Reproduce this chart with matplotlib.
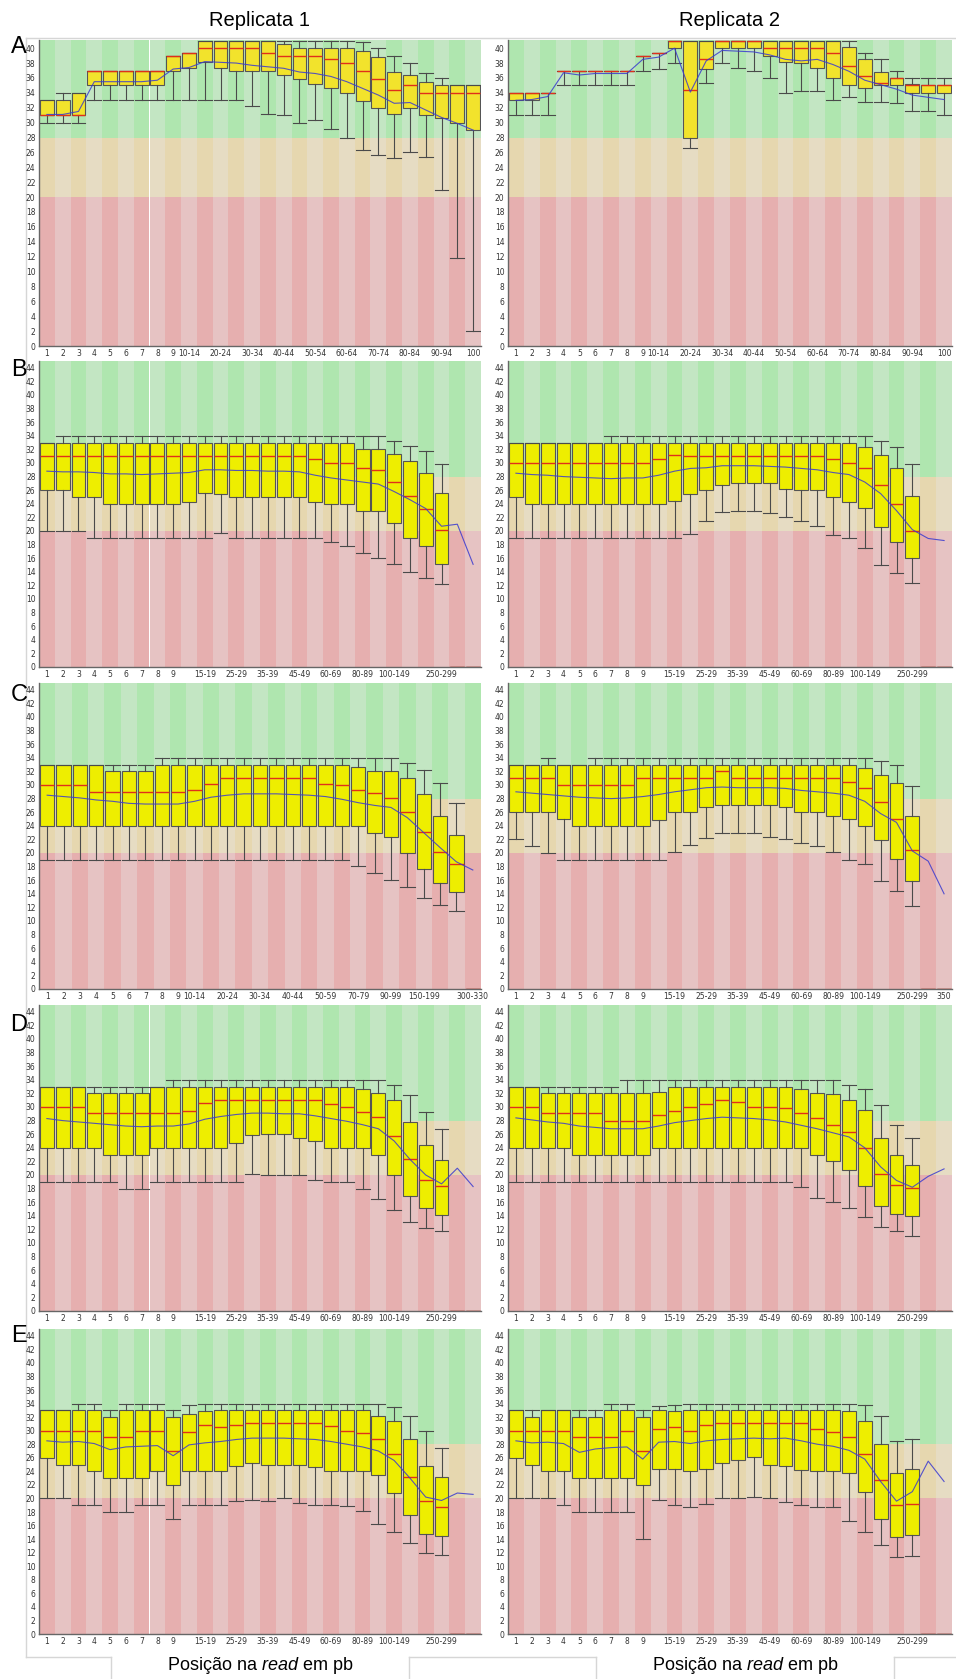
#!/usr/bin/env python3
"""Per-base sequence quality (FastQC style) for five libraries, two replicates each."""
import matplotlib
matplotlib.use("Agg")
import matplotlib.pyplot as plt
from matplotlib.patches import Rectangle

OUT = "out.png"
W, H = 956, 1679

# --- position bins -----------------------------------------------------------
SINGLE = [str(i) for i in range(1, 10)]
CATS_100 = SINGLE + ["%d-%d" % (s, s + 4) for s in range(10, 100, 5)] + ["100"]
CATS_350 = (SINGLE + ["%d-%d" % (s, s + 4) for s in range(10, 50, 5)]
            + ["%d-%d" % (s, s + 9) for s in range(50, 100, 10)]
            + ["100-149", "150-199", "200-249", "250-299", "300-349", "350"])
CATS_330 = CATS_350[:26] + ["300-330"]

SHOW_100 = SINGLE + ["10-14", "20-24", "30-34", "40-44", "50-54", "60-64",
                     "70-74", "80-84", "90-94", "100"]
SHOW_350 = SINGLE + ["15-19", "25-29", "35-39", "45-49", "60-69", "80-89",
                     "100-149", "250-299"]
SHOW_350_END = SHOW_350 + ["350"]
SHOW_330 = SINGLE + ["10-14", "20-24", "30-34", "40-44", "50-59", "70-79",
                     "90-99", "150-199", "300-330"]

# --- A, replicate 1 ----------------------------------------------------------
A1_Q1 = [31, 31, 31, 35, 35, 35, 35, 35, 37, 37.4, 38.1, 37.4, 37, 37, 37, 36.4,
         35.9, 35.2, 34.6, 34, 32.9, 32, 31.2, 32, 31, 30.6, 30, 29]
A1_Q3 = [33, 33, 34, 37, 37, 37, 37, 37, 39, 39.4, 41, 41, 41, 41, 41, 40.5,
         40, 40, 40, 40, 39.6, 38.8, 36.8, 36.4, 35.4, 35, 35, 35]
A1_MED = [31, 31, 31, 37, 37, 37, 37, 37, 39, 39.3, 40, 40, 40, 40, 39.3, 39,
          39, 39, 38.5, 38, 37, 35.8, 34.4, 35, 34, 34, 34, 34]
A1_LO = [30, 30, 30, 33, 33, 33, 33, 33, 33, 33, 33, 33, 33, 32.2, 31.2, 31,
         30, 30.3, 29.2, 27.9, 26.3, 25.6, 25.2, 26, 25.4, 21, 11.8, 2]
A1_HI = [33, 34, 34, 37, 37, 37, 37, 37, 39, 39.4, 41, 41, 41, 41, 41, 41,
         41, 41, 41, 41, 40.8, 40, 39, 38, 36.7, 36, 35, 35]
A1_MEAN = [31.1, 31.1, 31.5, 35.5, 35.5, 35.5, 35.5, 35.7, 37.2, 37.4, 38.2, 38.1,
           38.0, 37.7, 37.5, 37.3, 36.8, 36.6, 36.2, 35.5, 34.6, 33.7, 32.6, 32.7,
           31.7, 30.7, 29.9, 29.0]

# --- A, replicate 2 ----------------------------------------------------------
A2_Q1 = [33, 33, 34, 37, 37, 37, 37, 37, 39, 39.3, 40, 28, 37.2, 40, 40, 40,
         39, 38.2, 38, 37.4, 36, 35, 34.6, 35, 35, 34, 34, 34]
A2_Q3 = [34, 34, 34, 37, 37, 37, 37, 37, 39, 39.4, 41, 41, 41, 41, 41, 41,
         41, 41, 41, 41, 41, 40.2, 38.6, 36.8, 36, 35.2, 35, 35]
A2_MED = [34, 34, 34, 37, 37, 37, 37, 37, 39, 39.4, 41, 34.4, 38.5, 41, 41, 41,
          40, 40, 40, 40, 39.3, 37.6, 36.2, 35.3, 36, 35, 35, 35]
A2_LO = [31, 31, 31, 35, 35, 35, 35, 35, 37, 37.2, 38, 26.6, 35.3, 38, 37.3, 37,
         36, 34, 34.2, 34.2, 33, 33.4, 32.8, 32.8, 32.6, 31.6, 31.6, 31]
A2_HI = [34, 34, 34, 37, 37, 37, 37, 37, 39, 39.4, 41, 41, 41, 41, 41, 41,
         41, 41, 41, 41, 41, 41, 39.4, 38.5, 37, 36, 36, 36]
A2_MEAN = [33.0, 33.1, 33.5, 36.7, 36.4, 36.6, 36.6, 36.6, 38.5, 38.8, 40.0, 34.1,
           38.3, 39.7, 39.6, 39.5, 39.1, 38.5, 38.3, 38.5, 37.8, 36.9, 35.7, 35.1,
           34.5, 33.7, 33.4, 33.1]

# --- B, replicate 1 ----------------------------------------------------------
B1_Q1 = [26, 26, 25, 25, 24, 24, 24, 24, 24, 24.2, 25.6, 25.4, 25, 25, 25, 25,
         25, 24.2, 24, 24, 23, 23, 21.2, 19, 17.8, 15.2, 0, 0]
B1_Q3 = [33, 33, 33, 33, 33, 33, 33, 33, 33, 33, 33, 33, 33, 33, 33, 33,
         33, 33, 33, 33, 32, 32, 31.3, 30.3, 28.5, 25.6, 0, 0]
B1_MED = [31, 31, 31, 31, 31, 31, 31, 31, 31, 31, 31, 31, 31, 31, 31, 31,
          31, 30.6, 30, 30, 29.2, 28.9, 27.2, 25.1, 23.3, 20.2, 0, 0]
B1_LO = [20, 20, 20, 19, 19, 19, 19, 19, 19, 19, 19, 19.7, 19, 19, 19, 19,
         19, 19, 18.4, 17.8, 16.7, 16, 15.2, 14, 13.1, 12.2, 0, 0]
B1_HI = [33, 34, 34, 34, 34, 34, 34, 34, 34, 34, 34, 34, 34, 34, 34, 34,
         34, 34, 34, 34, 34, 34, 33.3, 32.5, 31.7, 29.8, 0, 0]
B1_MEAN = [28.8, 28.7, 28.7, 28.6, 28.4, 28.4, 28.3, 28.4, 28.5, 28.6, 29.0, 29.0,
           28.9, 28.9, 28.8, 28.8, 28.7, 28.2, 27.8, 27.5, 27.2, 26.9, 25.8, 24.6,
           23.3, 20.7, 21.0, 15.1]

# --- B, replicate 2 ----------------------------------------------------------
B2_Q1 = [25, 24, 24, 24, 24, 24, 24, 24, 24, 24, 24.4, 25.4, 26.1, 26.7, 27.1, 27.1,
         27.1, 26.2, 26.1, 26, 25, 24.3, 23.4, 20.6, 18.4, 16, 0, 0]
B2_Q3 = [33, 33, 33, 33, 33, 33, 33, 33, 33, 33, 33, 33, 33, 33, 33, 33,
         33, 33, 33, 33, 33, 33, 32.3, 31.2, 29.3, 25.1, 0, 0]
B2_MED = [30, 30, 30, 30, 30, 30, 30, 30, 30, 30.6, 31.2, 31, 31, 31, 31, 31,
          31, 31, 31, 31, 30.6, 30, 29.3, 26.7, 24.0, 20.0, 0, 0]
B2_LO = [19, 19, 19, 19, 19, 19, 19, 19, 19, 19, 19, 19.6, 21.5, 22.8, 23, 23,
         22.6, 22.1, 21.4, 20.7, 19.4, 19, 17.5, 15, 13.8, 12.3, 0, 0]
B2_HI = [33, 33, 33, 33, 33, 33, 34, 34, 34, 34, 34, 34, 34, 34, 34, 34,
         34, 34, 34, 34, 34, 34, 34, 33.2, 32.4, 29.9, 0, 0]
B2_MEAN = [28.5, 28.3, 28.2, 28.0, 27.9, 27.8, 27.7, 27.8, 27.8, 28.2, 28.8, 29.2,
           29.3, 29.6, 29.6, 29.6, 29.5, 29.4, 29.2, 29.0, 28.6, 28.3, 27.2, 25.5,
           23.0, 20.2, 18.9, 18.6]

# --- C, replicate 1 (27 bins) ------------------------------------------------
C1_Q1 = [24, 24, 24, 24, 24, 24, 24, 24, 24, 24, 24, 24, 24, 24, 24, 24,
         24, 24, 24, 24, 23, 22.3, 20, 17.7, 15.6, 14.2, 0]
C1_Q3 = [33, 33, 33, 33, 32, 32, 32, 33, 33, 33, 33, 33, 33, 33, 33, 33,
         33, 33, 33, 32.6, 32, 32, 31, 28.7, 25.5, 22.6, 0]
C1_MED = [30, 30, 30, 29, 29, 29, 29, 29, 29, 29.3, 30.2, 31, 31, 31, 31, 31,
          31, 30.2, 30, 29.2, 28.8, 28.1, 26, 23.1, 20.1, 18.4, 0]
C1_LO = [19, 19, 19, 19, 19, 19, 19, 19, 19, 19, 19, 19, 19, 19, 19, 19,
         19, 19, 19, 18.1, 17, 16, 15, 13.4, 12.4, 11.5, 0]
C1_HI = [33, 33, 33, 33, 33, 33, 33, 34, 34, 34, 34, 34, 34, 34, 34, 34,
         34, 34, 34, 34, 34, 34, 33.3, 32.2, 30.3, 27.3, 0]
C1_MEAN = [28.5, 28.3, 28.1, 27.8, 27.6, 27.3, 27.2, 27.2, 27.2, 27.6, 28.2, 28.5,
           28.7, 28.7, 28.7, 28.6, 28.5, 28.3, 27.9, 27.4, 27.0, 26.7, 25.2, 23.0,
           20.8, 18.7, 17.5]

# --- C, replicate 2 ----------------------------------------------------------
C2_Q1 = [26, 26, 26, 25, 24, 24, 24, 24, 24, 24.9, 26, 26, 26.8, 27.1, 27.1, 27.1,
         27.1, 26.7, 26, 26, 25.5, 25, 23.9, 21.9, 19.1, 15.9, 0, 0]
C2_Q3 = [33, 33, 33, 33, 33, 33, 33, 33, 33, 33, 33, 33, 33, 33, 33, 33,
         33, 33, 33, 33, 33, 33, 32.5, 31.5, 30.3, 25.4, 0, 0]
C2_MED = [31, 31, 31, 30, 30, 30, 30, 30, 31, 31, 31, 31, 31, 32, 31, 31,
          31, 31, 31, 31, 31, 30.5, 29.6, 27.5, 25, 20.4, 0, 0]
C2_LO = [22, 21, 20, 19, 19, 19, 19, 19, 19, 19, 20.2, 21.2, 22.2, 23, 23, 23,
         22.4, 22, 21.5, 21, 20.1, 19, 18.4, 15.9, 14.4, 12.2, 0, 0]
C2_HI = [33, 33, 34, 33, 33, 34, 34, 34, 34, 34, 34, 34, 34, 34, 34, 34,
         34, 34, 34, 34, 34, 34, 34, 33.6, 32.9, 29.9, 0, 0]
C2_MEAN = [29.0, 28.8, 28.6, 28.4, 28.2, 28.1, 28.0, 28.1, 28.3, 28.6, 29.0, 29.3,
           29.6, 29.7, 29.6, 29.6, 29.6, 29.5, 29.2, 29.0, 28.8, 28.5, 27.6, 25.8,
           24.5, 20.3, 18.8, 14.0]

# --- D, replicate 1 ----------------------------------------------------------
D1_Q1 = [24, 24, 24, 24, 23, 23, 23, 24, 24, 24, 24, 24, 24.7, 25.9, 26, 26,
         25.4, 25, 24, 24, 23.9, 22.9, 20, 16.9, 15.1, 14.1, 0, 0]
D1_Q3 = [33, 33, 33, 32, 32, 32, 32, 33, 33, 33, 33, 33, 33, 33, 33, 33,
         33, 33, 33, 33, 32.6, 32, 31, 27.8, 24.4, 22.2, 0, 0]
D1_MED = [30, 30, 30, 29.1, 29.1, 29.1, 29.1, 29.1, 29.1, 29.4, 30.6, 31, 31, 31, 31, 31,
          31, 31, 30.4, 30, 29.2, 28.5, 25.8, 22.3, 19.3, 18.4, 0, 0]
D1_LO = [19, 19, 19, 19, 19, 18, 18, 19, 19, 19, 19, 19, 19, 20.1, 20, 20,
         20, 19.2, 19, 19, 17.9, 16.5, 14.8, 13.1, 12.2, 11.7, 0, 0]
D1_HI = [33, 33, 33, 33, 33, 33, 33, 33, 34, 34, 34, 34, 34, 34, 34, 34,
         34, 34, 34, 34, 34, 34, 33.3, 31.8, 29.3, 26.7, 0, 0]
D1_MEAN = [28.3, 28.0, 27.8, 27.6, 27.4, 27.2, 27.1, 27.2, 27.2, 27.5, 28.2, 28.6,
           28.9, 29.1, 29.1, 29.0, 29.0, 28.7, 28.3, 27.9, 27.4, 26.8, 25.0, 22.3,
           20.0, 18.7, 21.0, 18.3]

# --- D, replicate 2 ----------------------------------------------------------
D2_Q1 = [24, 24, 24, 24, 23, 23, 23, 23, 23, 24, 24, 24, 24, 24, 24, 24,
         24, 24, 23.9, 22.9, 22.1, 20.7, 18.4, 15.4, 14.3, 14, 0, 0]
D2_Q3 = [33, 33, 32, 32, 32, 32, 32, 32, 32, 32.2, 33, 33, 33, 33, 33, 33,
         33, 33, 32.6, 32, 31.9, 31.1, 29.5, 25.4, 22.9, 21.5, 0, 0]
D2_MED = [30, 30, 29.1, 29.1, 29.1, 29.1, 28, 28, 28, 28.8, 29.4, 30, 30.4, 31, 30.7, 30,
          30, 29.9, 29.1, 28.4, 27.4, 26.3, 23.9, 20.2, 18.6, 18.1, 0, 0]
D2_LO = [19, 19, 19, 19, 19, 19, 19, 19, 19, 19, 19, 19, 19, 19, 19, 19,
         19, 19, 18.2, 16.6, 16, 15.1, 13.8, 12.4, 11.8, 11.1, 0, 0]
D2_HI = [33, 33, 33, 33, 33, 33, 33, 34, 34, 34, 34, 34, 34, 34, 34, 34,
         34, 34, 34, 34, 34, 33.2, 32.6, 30.3, 27.4, 25.4, 0, 0]
D2_MEAN = [28.4, 28.1, 27.8, 27.6, 27.2, 27.0, 26.8, 26.8, 26.8, 27.2, 27.7, 28.0,
           28.3, 28.5, 28.4, 28.3, 28.1, 27.8, 27.3, 26.8, 26.2, 25.6, 24.0, 21.2,
           19.2, 18.2, 19.8, 20.9]

# --- E, replicate 1 ----------------------------------------------------------
E1_Q1 = [26, 25, 25, 24, 23, 23, 23, 24, 22, 24, 24, 24, 24.8, 25.2, 25, 25,
         25, 24.6, 24, 24, 24, 23.4, 20.8, 17.5, 14.8, 14.4, 0, 0]
E1_Q3 = [33, 33, 33, 33, 32, 33, 33, 33, 32, 32.5, 32.9, 33, 33, 33, 33, 33,
         33, 33, 33, 33, 33, 32.1, 31.5, 28.8, 24.8, 23.1, 0, 0]
E1_MED = [30, 30, 30, 30, 29, 29, 30, 30, 27, 29.8, 30.8, 30.6, 30.8, 31.1, 31.1, 31.1,
          31.1, 31.1, 30.7, 30, 29.7, 28.8, 26.5, 23.1, 19.6, 18.7, 0, 0]
E1_LO = [20, 20, 19, 19, 18, 18, 19, 19, 17, 19, 19, 19, 19.6, 19.8, 19.6, 20,
         19.4, 19, 19, 18.9, 18.1, 16.3, 15, 13.4, 11.9, 11.6, 0, 0]
E1_HI = [33, 33, 34, 34, 33, 34, 34, 34, 33, 33.8, 34, 34, 34, 34, 34, 34,
         34, 34, 34, 34, 34, 34, 33.5, 32.2, 29.9, 27.4, 0, 0]
E1_MEAN = [28.5, 28.3, 28.4, 28.1, 27.2, 27.6, 27.7, 27.8, 26.3, 27.9, 28.2, 28.4,
           28.7, 28.9, 28.9, 28.9, 28.8, 28.7, 28.4, 28.0, 27.6, 27.0, 25.6, 23.0,
           20.2, 19.7, 20.8, 20.6]

# --- E, replicate 2 ----------------------------------------------------------
E2_Q1 = [26, 25, 24, 24, 23, 23, 23, 23, 22, 24.4, 24.4, 24, 24.4, 25.2, 25.6, 26.1,
         25, 24.8, 24.2, 24, 24, 23.8, 20.9, 17, 14.3, 14.6, 0, 0]
E2_Q3 = [33, 32, 33, 33, 32, 32, 33, 33, 32, 33, 32.9, 33, 33, 33, 33, 33,
         33, 33, 33, 33, 33, 32.9, 31.5, 28.1, 23.7, 24.3, 0, 0]
E2_MED = [30, 30, 30, 30, 29, 29, 29, 30, 27, 30.2, 30.6, 30, 30.8, 31.1, 31.1, 31.1,
          31.1, 31.1, 31.1, 30.2, 29.8, 29.1, 26.5, 22.7, 19, 19.2, 0, 0]
E2_LO = [20, 20, 20, 19, 18, 18, 18, 18, 14, 19.8, 19, 18.8, 19.2, 20, 20, 20.2,
         20, 19.5, 19, 18.8, 18.8, 16.6, 15, 13.2, 11.3, 11.5, 0, 0]
E2_HI = [33, 33, 33, 33, 33, 33, 34, 34, 33, 33.6, 33.8, 34, 34, 34, 34, 34,
         34, 34, 34, 34, 34, 34, 33.8, 32.1, 28.5, 28.7, 0, 0]
E2_MEAN = [28.5, 28.2, 28.3, 28.1, 26.8, 27.3, 27.5, 27.6, 25.8, 28.3, 28.4, 28.1,
           28.5, 28.7, 28.8, 28.9, 28.8, 28.9, 28.5, 28.0, 27.7, 27.1, 25.8, 22.5,
           19.6, 21.0, 25.5, 22.5]

# --- styling -------------------------------------------------------------------
ZONES = [(0, 20, "#e6c3c3", "#e6afaf"),     # poor
         (20, 28, "#e6dcc3", "#e6d7af"),    # reasonable
         (28, 99, "#c3e6c3", "#afe6af")]    # good
BOX_A = "#f2e32c"
BOX = "#eeee00"
MEDIAN_C = "#e0301a"
MEAN_C = "#3a3ad0"
EDGE = "#555555"
TICK_C = "#333333"
FRAME_C = "#d6d6d6"

ROW_TOP = [40, 361, 683, 1005, 1329]
ROW_BOT = [346, 667, 989, 1311, 1634]
COL_X = [(39, 481), (508, 952)]


def px_axes(fig, x0, y0, x1, y1):
    return fig.add_axes([x0 / W, 1 - y1 / H, (x1 - x0) / W, (y1 - y0) / H])


def quality_panel(ax, cats, shown, q1, q3, med, lo, hi, mean, ymax, box_color):
    n = len(cats)
    pos = [i + 0.5 for i in range(n)]
    # alternating column stripes in each quality zone
    for i in range(n):
        for lo_z, hi_z, light, dark in ZONES:
            ax.add_patch(Rectangle((i, lo_z), 1, hi_z - lo_z, lw=0,
                                   color=dark if i % 2 == 0 else light, zorder=0))
    stats = [dict(med=m, q1=a, q3=b, whislo=l, whishi=h, fliers=[])
             for a, b, m, l, h in zip(q1, q3, med, lo, hi)]
    ax.bxp(stats, positions=pos, widths=0.88, capwidths=0.88, patch_artist=True,
           showfliers=False, manage_ticks=False,
           boxprops=dict(facecolor=box_color, edgecolor=EDGE, linewidth=0.8),
           medianprops=dict(color=MEDIAN_C, linewidth=1.0),
           whiskerprops=dict(color="#4a4a4a", linewidth=0.8),
           capprops=dict(color="#4a4a4a", linewidth=0.8))
    ax.plot(pos, mean, color=MEAN_C, lw=0.8, alpha=0.85, zorder=5)

    ax.set_xlim(0, n)
    ax.set_ylim(0, ymax)
    top_tick = 40 if ymax < 44 else 44
    ax.set_yticks(range(0, top_tick + 1, 2))
    tick_pos = [p for p, c in zip(pos, cats) if c in shown]
    ax.set_xticks(tick_pos)
    ax.set_xticklabels([c for c in cats if c in shown])
    ax.tick_params(length=0, pad=2.5, labelsize=5.5, labelcolor=TICK_C)
    for s in ("top", "right"):
        ax.spines[s].set_visible(False)
    for s in ("left", "bottom"):
        ax.spines[s].set_color("#666666")
        ax.spines[s].set_linewidth(1.0)


fig = plt.figure(figsize=(W / 100, H / 100), dpi=100)
fig.patch.set_facecolor("white")

# page overlay in pixel coordinates: headings, panel letters, image frames
page = fig.add_axes([0, 0, 1, 1], zorder=-1)
page.set_xlim(0, W)
page.set_ylim(H, 0)
page.axis("off")

plt.rcParams["mathtext.fontset"] = "custom"
plt.rcParams["mathtext.it"] = "Liberation Sans:italic"
plt.rcParams["mathtext.rm"] = "Liberation Sans"

page.text(260, 20, "Replicata 1", ha="center", va="center", fontsize=14.5,
          family="Liberation Sans")
page.text(730, 20, "Replicata 2", ha="center", va="center", fontsize=14.5,
          family="Liberation Sans")
for letter, y in zip("ABCDE", [47, 370, 695, 1025, 1336]):
    page.text(19, y, letter, ha="center", va="center", fontsize=17,
              family="Liberation Sans")
for xc in (260, 745):
    page.text(xc, 1666, r"Posição na $\mathit{read}$ em pb", ha="center",
              va="center", fontsize=13, family="Liberation Sans")

frame = dict(color=FRAME_C, lw=1.0)
page.plot([26, W], [38, 38], **frame)
page.plot([26, 26], [38, 1657], **frame)
for seg in ([26, 111], [409, 596], [894, W]):
    page.plot(seg, [1657, 1657], **frame)
for xv in (111, 409, 596, 894):
    page.plot([xv, xv], [1657, H], **frame)

PANELS = [
    [(CATS_100, SHOW_100, A1_Q1, A1_Q3, A1_MED, A1_LO, A1_HI, A1_MEAN),
     (CATS_100, SHOW_100, A2_Q1, A2_Q3, A2_MED, A2_LO, A2_HI, A2_MEAN)],
    [(CATS_350, SHOW_350, B1_Q1, B1_Q3, B1_MED, B1_LO, B1_HI, B1_MEAN),
     (CATS_350, SHOW_350, B2_Q1, B2_Q3, B2_MED, B2_LO, B2_HI, B2_MEAN)],
    [(CATS_330, SHOW_330, C1_Q1, C1_Q3, C1_MED, C1_LO, C1_HI, C1_MEAN),
     (CATS_350, SHOW_350_END, C2_Q1, C2_Q3, C2_MED, C2_LO, C2_HI, C2_MEAN)],
    [(CATS_350, SHOW_350, D1_Q1, D1_Q3, D1_MED, D1_LO, D1_HI, D1_MEAN),
     (CATS_350, SHOW_350, D2_Q1, D2_Q3, D2_MED, D2_LO, D2_HI, D2_MEAN)],
    [(CATS_350, SHOW_350, E1_Q1, E1_Q3, E1_MED, E1_LO, E1_HI, E1_MEAN),
     (CATS_350, SHOW_350, E2_Q1, E2_Q3, E2_MED, E2_LO, E2_HI, E2_MEAN)],
]

for r, row in enumerate(PANELS):
    ymax = 41.1 if r == 0 else 45
    color = BOX_A if r == 0 else BOX
    for c, spec in enumerate(row):
        x0, x1 = COL_X[c]
        ax = px_axes(fig, x0, ROW_TOP[r], x1, ROW_BOT[r])
        quality_panel(ax, *spec, ymax=ymax, box_color=color)

fig.savefig(OUT, dpi=100, facecolor="white")
print("wrote", OUT)
